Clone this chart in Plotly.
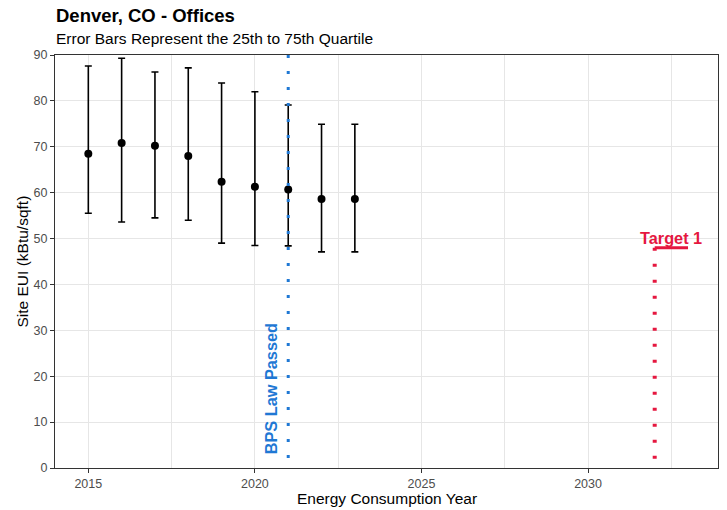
import plotly.graph_objects as go

# Site EUI distribution for Denver offices, by reporting year
years = [2015, 2016, 2017, 2018, 2019, 2020, 2021, 2022, 2023]
median_eui = [68.5, 70.8, 70.2, 68.0, 62.4, 61.3, 60.7, 58.6, 58.6]
q25_eui = [55.5, 53.6, 54.5, 54.0, 49.0, 48.5, 48.4, 47.1, 47.1]
q75_eui = [87.6, 89.3, 86.3, 87.2, 83.9, 82.0, 79.1, 74.9, 74.9]

# Policy milestones
bps_year = 2021
bps_label = "BPS Law Passed"
target_year = 2032
target_end_year = 2033
target_eui = 48
target_label = "Target 1"

BLUE = "#1f78d4"
RED = "#e5173f"
FONT = "Liberation Sans, Arial, sans-serif"

W, H = 727, 510
ML, MR, MT, MB = 55, 9, 55, 42
pw, ph = W - ML - MR, H - MT - MB


def px_to_paper(px, py):
    """Convert page pixel coordinates into paper coordinates."""
    return (px - ML) / pw, 1 + (MT - py) / ph


fig = go.Figure()

# Target 1 vertical marker and level segment
fig.add_trace(go.Scatter(
    x=[target_year, target_year], y=[target_eui, 0], mode="lines",
    line=dict(color=RED, width=4, dash="3px,13px"),
    hoverinfo="skip", showlegend=False,
))
fig.add_trace(go.Scatter(
    x=[target_year, target_end_year], y=[target_eui, target_eui], mode="lines",
    line=dict(color=RED, width=3),
    hoverinfo="skip", showlegend=False,
))

# Medians with interquartile error bars
fig.add_trace(go.Scatter(
    x=years, y=median_eui, mode="markers",
    marker=dict(color="black", size=8),
    error_y=dict(
        type="data", symmetric=False,
        array=[h - m for h, m in zip(q75_eui, median_eui)],
        arrayminus=[m - l for m, l in zip(median_eui, q25_eui)],
        color="black", thickness=1.6, width=3.5,
    ),
    showlegend=False,
))

# BPS law vertical marker
fig.add_trace(go.Scatter(
    x=[bps_year, bps_year], y=[90, 0], mode="lines",
    line=dict(color=BLUE, width=3, dash="3px,13px"),
    hoverinfo="skip", showlegend=False,
))

fig.add_annotation(
    x=bps_year, y=2.5, xref="x", yref="y", text=f"<b>{bps_label}</b>",
    textangle=-90, showarrow=False, xanchor="right", yanchor="bottom",
    xshift=-6, font=dict(family=FONT, size=16.3, color=BLUE),
)
fig.add_annotation(
    x=(target_year + target_end_year) / 2, y=target_eui, xref="x", yref="y",
    text=f"<b>{target_label}</b>", showarrow=False, yanchor="bottom", yshift=-1,
    font=dict(family=FONT, size=16.3, color=RED),
)

# Title and subtitle
tx, ty = px_to_paper(54, 16)
fig.add_annotation(
    x=tx, y=ty, xref="paper", yref="paper", text="<b>Denver, CO - Offices</b>",
    showarrow=False, xanchor="left", yanchor="middle",
    font=dict(family=FONT, size=18.5, color="black"),
)
sx, sy = px_to_paper(54, 38)
fig.add_annotation(
    x=sx, y=sy, xref="paper", yref="paper",
    text="Error Bars Represent the 25th to 75th Quartile",
    showarrow=False, xanchor="left", yanchor="middle",
    font=dict(family=FONT, size=15.5, color="black"),
)

# Axis titles
xx, xy = px_to_paper(ML + pw / 2, 499)
fig.add_annotation(
    x=xx, y=xy, xref="paper", yref="paper", text="Energy Consumption Year",
    showarrow=False, xanchor="center", yanchor="middle",
    font=dict(family=FONT, size=15.5, color="black"),
)
yx, yy = px_to_paper(22, MT + ph / 2)
fig.add_annotation(
    x=yx, y=yy, xref="paper", yref="paper", text="Site EUI (kBtu/sqft)",
    textangle=-90, showarrow=False, xanchor="center", yanchor="middle",
    font=dict(family=FONT, size=15.5, color="black"),
)

fig.update_layout(
    width=W, height=H,
    margin=dict(l=ML, r=MR, t=MT, b=MB, autoexpand=False),
    paper_bgcolor="white", plot_bgcolor="white",
    font=dict(family=FONT, color="black"),
)

fig.update_xaxes(
    range=[2014.0, 2033.9], tickvals=[2015, 2020, 2025, 2030],
    showgrid=True, gridcolor="#e6e6e6", gridwidth=1.2,
    minor=dict(tickvals=[2017.5, 2022.5, 2027.5, 2032.5], showgrid=True,
               gridcolor="#e6e6e6", gridwidth=1.2, ticks=""),
    showline=True, linecolor="#333333", linewidth=1, mirror=True,
    ticks="outside", ticklen=4, tickcolor="#333333",
    tickfont=dict(family=FONT, size=12.5, color="#4d4d4d"),
    zeroline=False, automargin=False,
)
fig.update_yaxes(
    range=[0, 90], tickvals=list(range(0, 91, 10)),
    showgrid=True, gridcolor="#e6e6e6", gridwidth=1.2,
    showline=True, linecolor="#333333", linewidth=1, mirror=True,
    ticks="outside", ticklen=4, tickcolor="#333333",
    tickfont=dict(family=FONT, size=12.5, color="#4d4d4d"),
    zeroline=False, automargin=False,
)

fig.write_html("out.html")
